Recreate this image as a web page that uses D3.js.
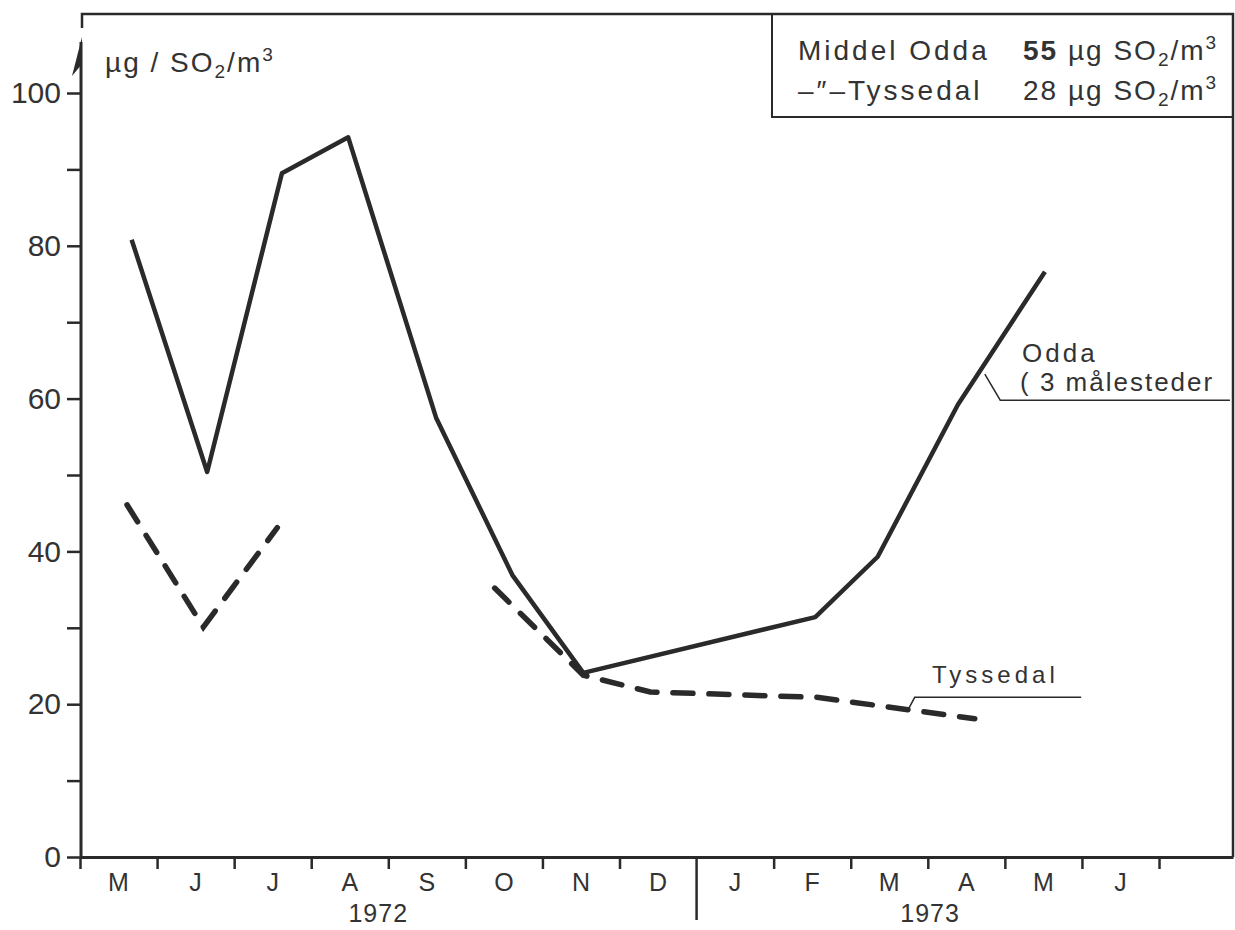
<!DOCTYPE html>
<html>
<head>
<meta charset="utf-8">
<script src="https://cdn.jsdelivr.net/npm/d3@7"></script>
<style>
  body { margin: 0; background: #fff; }
  text { font-family: "Liberation Sans", Arial, sans-serif; fill: #333; }
</style>
</head>
<body>
<svg width="1235" height="930"></svg>
<script>
// month letters, May 1972 .. June 1973
const months = ["M", "J", "J", "A", "S", "O", "N", "D", "J", "F", "M", "A", "M", "J"];
const years = ["1972", "1973"];
const yearPos = [3.87, 11.03];
const yTicks = [0, 10, 20, 30, 40, 50, 60, 70, 80, 90, 100];

// Odda (3 measuring sites), month position counted from start of May 1972
const oddaMonth = [0.67, 1.65, 2.62, 3.48, 4.62, 5.61, 6.53, 9.54, 10.35, 11.39, 12.52];
const oddaValue = [80.8, 50.4, 89.5, 94.2, 57.5, 36.9, 24.1, 31.4, 39.3, 59.2, 76.6];

// Tyssedal, null = gap in the series
const tyssedalMonth = [0.61, 1.6, 2.56, 4.0, 5.38, 6.53, 7.4, 9.56, 10.51, 11.61];
const tyssedalValue = [46.1, 30.1, 43.1, null, 35.2, 23.8, 21.6, 20.9, 19.6, 18.1];

const legendNames = ["Middel Odda", "\u2013\u2033\u2013Tyssedal"];
const legendMeans = ["55", "28"];

const svg = d3.select("svg");
const ink = "#2a2a2a";

const x = d3.scaleLinear().domain([0, 14.96]).range([80, 1233]);
const y = d3.scaleLinear().domain([0, 100]).range([857, 93]);

// frame
svg.append("path")
  .attr("d", `M${x(0) + 2},28V14H${x(14.96)}V${y(0)}`)
  .attr("fill", "none").attr("stroke", ink).attr("stroke-width", 2.5);

// legend box
svg.append("path")
  .attr("d", `M772,14V117H${x(14.96)}`)
  .attr("fill", "none").attr("stroke", ink).attr("stroke-width", 2);

// axes
const xAxis = d3.axisBottom(x)
  .tickValues([0, 1, 2, 3, 4, 5, 6, 7, 9, 10, 11, 12, 13, 14])
  .tickSize(12).tickSizeOuter(0).tickFormat("");
const gx = svg.append("g").attr("transform", `translate(0,${y(0)})`).call(xAxis);
gx.select(".domain").attr("stroke", ink).attr("stroke-width", 3);
gx.selectAll(".tick line").attr("stroke", ink).attr("stroke-width", 2.5);

// year divider
svg.append("line")
  .attr("x1", x(8)).attr("x2", x(8))
  .attr("y1", y(0)).attr("y2", 920)
  .attr("stroke", ink).attr("stroke-width", 2.5);

svg.append("g").selectAll("text").data(months).join("text")
  .attr("x", (d, i) => x(i + 0.5))
  .attr("y", 891)
  .attr("text-anchor", "middle")
  .attr("font-size", 25)
  .text(d => d);

svg.append("g").selectAll("text").data(years).join("text")
  .attr("x", (d, i) => x(yearPos[i]))
  .attr("y", 922)
  .attr("text-anchor", "middle")
  .attr("font-size", 25)
  .attr("letter-spacing", 1)
  .text(d => d);

const yAxis = d3.axisLeft(y)
  .tickValues(yTicks)
  .tickSize(14).tickPadding(6)
  .tickFormat(d => d % 20 === 0 ? d : "");
const gy = svg.append("g").attr("transform", `translate(${x(0) + 1},0)`).call(yAxis);
gy.select(".domain").remove();
gy.selectAll(".tick line").attr("stroke", ink).attr("stroke-width", 2.5);
gy.selectAll(".tick text")
  .attr("font-size", 30)
  .attr("fill", "#333")
  .attr("font-family", "Liberation Sans, Arial, sans-serif");

// y axis line with arrow
svg.append("line")
  .attr("x1", x(0) + 1).attr("x2", x(0) + 1)
  .attr("y1", y(0)).attr("y2", 42)
  .attr("stroke", ink).attr("stroke-width", 3);
svg.append("path")
  .attr("d", `M${x(0) + 2},37L${x(0) - 8},76L${x(0) + 2},64Z`)
  .attr("fill", ink);

// unit label
function unit(t) {
  t.append("tspan").text("SO");
  t.append("tspan").attr("dy", 6).attr("font-size", "0.68em").text("2");
  t.append("tspan").attr("dy", -6).text("/m");
  t.append("tspan").attr("dy", -11).attr("font-size", "0.68em").text("3");
}
const ul = svg.append("text")
  .attr("x", 105).attr("y", 72)
  .attr("font-size", 28)
  .attr("letter-spacing", 2);
ul.append("tspan").text("\u00b5g / ");
unit(ul);

// legend
legendNames.forEach((name, i) => {
  svg.append("text")
    .attr("x", 798).attr("y", 60 + i * 40)
    .attr("font-size", 28)
    .attr("letter-spacing", 3)
    .text(name);
  const t = svg.append("text")
    .attr("x", 1023).attr("y", 60 + i * 40)
    .attr("font-size", 28)
    .attr("letter-spacing", 2);
  t.append("tspan").attr("font-weight", i === 0 ? "bold" : "normal").text(legendMeans[i]);
  t.append("tspan").text(" \u00b5g ");
  unit(t);
});

// lines
const odda = oddaMonth.map((m, i) => ({ m, v: oddaValue[i] }));
const tyssedal = tyssedalMonth.map((m, i) => ({ m, v: tyssedalValue[i] }));

const line = d3.line()
  .defined(d => d.v != null)
  .x(d => x(d.m))
  .y(d => y(d.v));

svg.append("path")
  .datum(tyssedal)
  .attr("d", line)
  .attr("fill", "none")
  .attr("stroke", ink)
  .attr("stroke-width", 5.5)
  .attr("stroke-linecap", "round")
  .attr("stroke-dasharray", "20,16");

svg.append("path")
  .datum(odda)
  .attr("d", line)
  .attr("fill", "none")
  .attr("stroke", ink)
  .attr("stroke-width", 4.5)
  .attr("stroke-linejoin", "round");

// annotations
svg.append("path")
  .attr("d", `M${x(11.74)},${y(63.2)}L${x(11.94)},${y(59.8)}H${x(14.92)}`)
  .attr("fill", "none").attr("stroke", ink).attr("stroke-width", 1.5);
svg.append("text")
  .attr("x", 1022).attr("y", 362)
  .attr("font-size", 26).attr("letter-spacing", 3)
  .text("Odda");
svg.append("text")
  .attr("x", 1020).attr("y", 391)
  .attr("font-size", 26).attr("letter-spacing", 2)
  .text("( 3 m\u00e5lesteder");

svg.append("path")
  .attr("d", `M${x(10.74)},${y(19.2)}L${x(10.83)},${y(20.9)}H${x(12.99)}`)
  .attr("fill", "none").attr("stroke", ink).attr("stroke-width", 1.5);
svg.append("text")
  .attr("x", 932).attr("y", 683)
  .attr("font-size", 24).attr("letter-spacing", 4)
  .text("Tyssedal");
</script>
</body>
</html>
